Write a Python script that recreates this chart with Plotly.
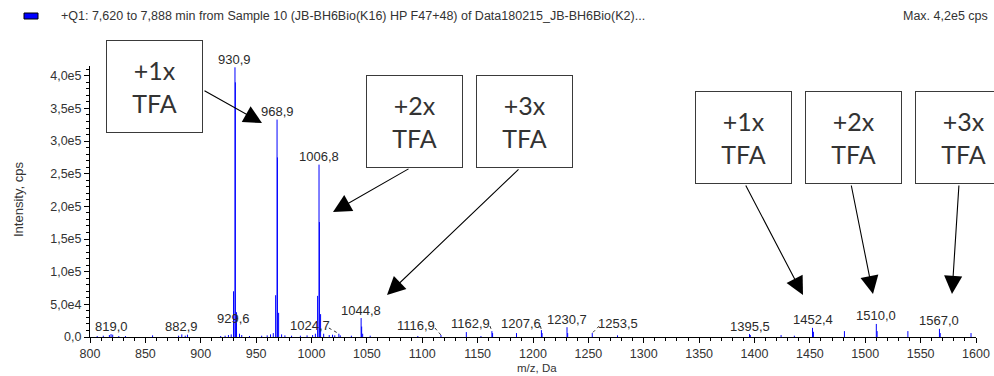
import plotly.graph_objects as go

# ---------------- data ----------------
peak_mz = [806.5, 812.0, 817.5, 819.0, 820.5, 826.0, 832.0, 856.5, 880.0, 882.9, 886.0, 888.0,
           918.0, 922.0, 925.0, 927.5, 929.6, 930.9, 931.25, 932.3, 935.0, 937.0, 944.0,
           955.0, 960.0, 963.0, 965.5, 967.6, 968.9, 969.25, 970.3, 973.0, 976.0, 982.0, 990.0,
           996.0, 1001.0, 1003.5, 1005.5, 1006.8, 1007.15, 1008.2, 1011.0, 1016.0, 1019.0, 1021.0,
           1024.7, 1026.0, 1036.0, 1044.8, 1045.3, 1046.2, 1053.0, 1096.0, 1116.9, 1139.8, 1153.0,
           1162.9, 1163.5, 1185.1, 1207.6, 1208.2, 1230.7, 1231.3, 1253.5, 1276.3, 1395.5, 1396.2,
           1424.0, 1436.0, 1452.4, 1453.2, 1481.2, 1510.0, 1510.7, 1538.5, 1567.0, 1567.7, 1595.5]
peak_int = [1.5e3, 2e3, 3e3, 4.5e3, 3.5e3, 1.5e3, 1.5e3, 2.5e3, 2e3, 4e3, 2e3, 3.5e3,
            1.5e3, 2e3, 3e3, 4e3, 7.0e4, 4.13e5, 3.9e5, 3.8e4, 5e3, 3e3, 1.5e3,
            2e3, 2.5e3, 4e3, 6e3, 6.4e4, 3.33e5, 2.75e5, 3.7e4, 4e3, 2.5e3, 2e3, 2e3,
            2.5e3, 3e3, 5e3, 6.3e4, 2.64e5, 1.76e5, 3.5e4, 5e3, 3e3, 3.5e3, 2.5e3,
            5e3, 2.5e3, 2e3, 2.9e4, 1.6e4, 5e3, 2e3, 1.5e3, 3e3, 7.5e3, 1.5e3,
            9e3, 6e3, 6e3, 1.05e4, 6e3, 1.5e4, 6e3, 6e3, 2.5e3, 4.5e3, 3e3,
            3e3, 2e3, 1.4e4, 8e3, 9e3, 2e4, 9e3, 9e3, 1.25e4, 6e3, 6e3]

# labelled peaks
label_mz = [819.0, 882.9, 929.6, 930.9, 968.9, 1006.8, 1024.7, 1044.8, 1116.9, 1162.9,
            1207.6, 1230.7, 1253.5, 1395.5, 1452.4, 1510.0, 1567.0]
label_text = ["819,0", "882,9", "929,6", "930,9", "968,9", "1006,8", "1024,7", "1044,8", "1116,9",
              "1162,9", "1207,6", "1230,7", "1253,5", "1395,5", "1452,4", "1510,0", "1567,0"]

x_tick_vals = list(range(800, 1601, 50))
x_tick_text = [str(v) for v in x_tick_vals]
y_tick_vals = [0, 5e4, 1e5, 1.5e5, 2e5, 2.5e5, 3e5, 3.5e5, 4e5]
y_tick_text = ["0,0", "5,0e4", "1,0e5", "1,5e5", "2,0e5", "2,5e5", "3,0e5", "3,5e5", "4,0e5"]

box_text = ["+1x<br>TFA", "+2x<br>TFA", "+3x<br>TFA", "+1x<br>TFA", "+2x<br>TFA", "+3x<br>TFA"]

header_text = "+Q1: 7,620 to 7,888 min from Sample 10 (JB-BH6Bio(K16) HP F47+48) of Data180215_JB-BH6Bio(K2)..."
max_text = "Max. 4,2e5 cps"
x_title = "m/z, Da"
y_title = "Intensity, cps"

# ---------------- layout geometry ----------------
W, H = 994, 376
ML, MR, MT, MB = 90, 18, 66, 39
PW, PH = W - ML - MR, H - MT - MB
XR = [800, 1600]
YR = [0, 4.15e5]
DA_PX = (XR[1] - XR[0]) / PW      # Da per pixel
INT_PX = (YR[1] - YR[0]) / PH     # intensity per pixel


def px_x(px):
    return (px - ML) / PW


def px_y(py):
    return (H - MB - py) / PH


def peak_height(m):
    return peak_int[peak_mz.index(m)]


# build stick spectrum
xs, ys = [], []
for m, v in zip(peak_mz, peak_int):
    xs += [m, m, None]
    ys += [0, v, None]

fig = go.Figure()
fig.add_trace(go.Scatter(x=xs, y=ys, mode="lines",
                         line=dict(color="#0000FF", width=1), hoverinfo="skip",
                         showlegend=False))
fig.add_trace(go.Scatter(x=[800 - 1.5 * DA_PX], y=[4 * INT_PX], mode="markers",
                         marker=dict(symbol="triangle-right", size=10, color="#0000FF"),
                         cliponaxis=False, showlegend=False, hoverinfo="skip"))

annotations = []
shapes = []
label_font = dict(family="Liberation Sans, Arial", size=13, color="#2a2a2a")

# label offsets (pixels) for labels displaced with leader lines
label_dx = {"1024,7": -29, "1116,9": -25, "1162,9": -21, "1207,6": -20, "1253,5": 26}
# label centre heights (pixels from top) where the label is not simply above its peak
label_cy_px = {"929,6": 318, "1024,7": 325, "1116,9": 325, "1162,9": 323,
               "1207,6": 323, "1253,5": 323}

for m, t in zip(label_mz, label_text):
    h = peak_height(m)
    dx = label_dx.get(t, 0)
    if t in label_cy_px:
        ylab = (H - MB - label_cy_px[t]) * INT_PX
        ysh = 0
    else:
        ylab = h
        ysh = 8
    annotations.append(dict(x=m, y=ylab, xref="x", yref="y", text=t, showarrow=False,
                            xanchor="center", yanchor="middle", xshift=dx, yshift=ysh,
                            font=label_font))
    if t in label_dx:
        half_w = 19 if dx < 0 else -19
        lx = m + (dx + half_w) * DA_PX
        shapes.append(dict(type="line", xref="x", yref="y", x0=lx, y0=ylab - 3 * INT_PX,
                           x1=m, y1=h, line=dict(color="#333333", width=1, dash="dot")))

# text boxes (pixel centres)
box_cx = [154.5, 414, 524, 743, 853, 963]
box_cy = [86.5, 121.5, 121.5, 137, 137, 137]
for t, cx, cy in zip(box_text, box_cx, box_cy):
    annotations.append(dict(x=px_x(cx), y=px_y(cy), xref="paper", yref="paper", text=t,
                            showarrow=False, xanchor="center", yanchor="middle",
                            width=95, height=91, borderpad=0, borderwidth=1,
                            bordercolor="#3a3a3a", bgcolor="white",
                            font=dict(family="Lato", size=25, color="#333333")))

# arrows (tip pixel, tail pixel)
arrow_tip = [(262, 123), (333, 212), (387, 295), (803, 295), (873, 294), (952, 294)]
arrow_tail = [(203, 90), (410, 168), (520, 168), (745, 184), (851, 184), (959, 184)]
for (tx, ty), (sx, sy) in zip(arrow_tip, arrow_tail):
    annotations.append(dict(x=px_x(tx), y=px_y(ty), xref="paper", yref="paper", text="",
                            showarrow=True, arrowhead=2, arrowsize=3.3, arrowwidth=1.1,
                            arrowcolor="black", ax=sx - tx, ay=sy - ty, standoff=0))

# header and axis titles
txt_font = dict(family="Liberation Sans, Arial", size=12.5, color="#333333")
annotations.append(dict(x=px_x(59), y=px_y(16), xref="paper", yref="paper", text=header_text,
                        showarrow=False, xanchor="left", yanchor="middle", font=txt_font))
annotations.append(dict(x=px_x(990), y=px_y(16), xref="paper", yref="paper", text=max_text,
                        showarrow=False, xanchor="right", yanchor="middle", font=txt_font))
annotations.append(dict(x=px_x(537), y=px_y(368), xref="paper", yref="paper", text=x_title,
                        showarrow=False, xanchor="center", yanchor="middle",
                        font=dict(family="Liberation Sans, Arial", size=11.5, color="#333333")))
annotations.append(dict(x=px_x(18), y=px_y(200), xref="paper", yref="paper", text=y_title,
                        showarrow=False, xanchor="center", yanchor="middle", textangle=-90,
                        font=dict(family="Liberation Sans, Arial", size=13, color="#333333")))
shapes.append(dict(type="rect", xref="paper", yref="paper", x0=px_x(24), x1=px_x(38),
                   y0=px_y(19), y1=px_y(13), fillcolor="#0000FF",
                   line=dict(color="black", width=1)))

axis_font = dict(family="Liberation Sans, Arial", size=12.5, color="#333333")
fig.update_layout(
    width=W, height=H,
    margin=dict(l=ML, r=MR, t=MT, b=MB, pad=0, autoexpand=False),
    paper_bgcolor="white", plot_bgcolor="white",
    showlegend=False,
    annotations=annotations, shapes=shapes,
    xaxis=dict(range=XR, showgrid=False, zeroline=False, showline=True, linecolor="black",
               linewidth=1, ticks="outside", ticklen=5, tickcolor="black", automargin=False,
               tickvals=x_tick_vals, ticktext=x_tick_text, tickfont=axis_font,
               minor=dict(dtick=10, tick0=800, ticks="outside", ticklen=3, tickcolor="black")),
    yaxis=dict(range=YR, showgrid=False, zeroline=False, showline=True, linecolor="black",
               linewidth=1, ticks="outside", ticklen=5, tickcolor="black", automargin=False,
               tickvals=y_tick_vals, ticktext=y_tick_text, tickfont=axis_font,
               minor=dict(dtick=1e4, tick0=0, ticks="outside", ticklen=3, tickcolor="black")),
)

fig.write_html("out.html")
